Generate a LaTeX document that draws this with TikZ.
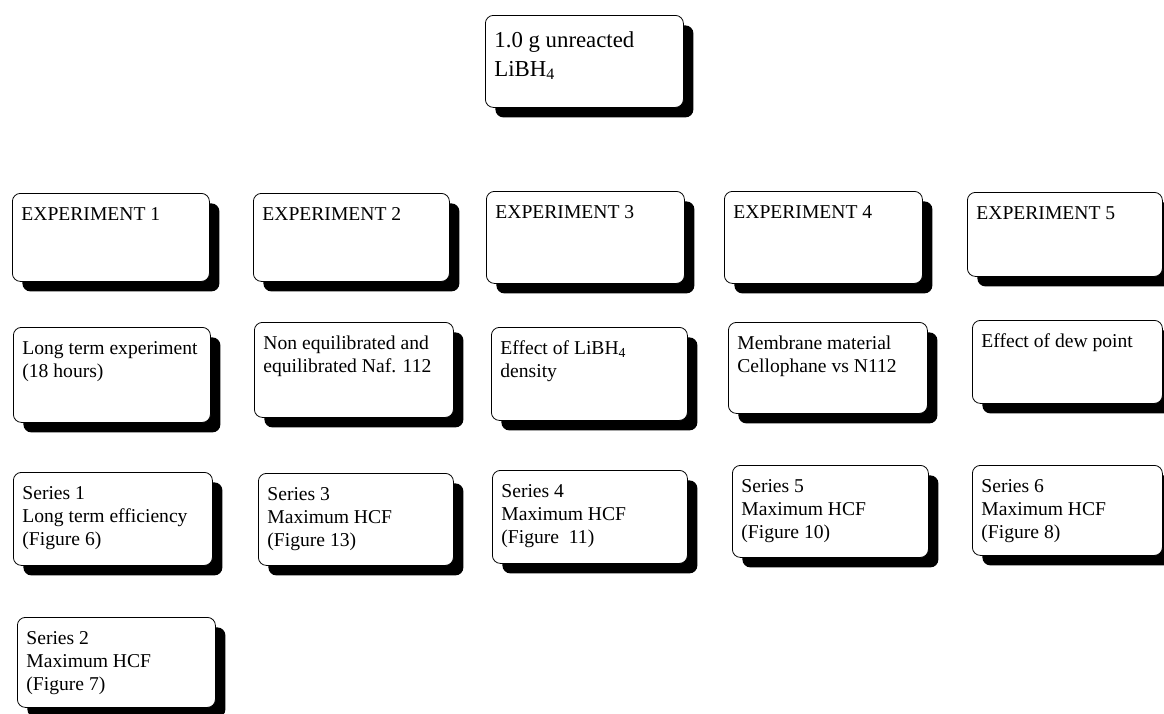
\documentclass[tikz,border=0pt]{standalone}
\usepackage{fontspec}
\setmainfont{Liberation Serif}
\usetikzlibrary{shadows}
\newcommand{\bt}[3]{\parbox[c][#2pt][t]{#1pt}{\fontsize{19.6}{23}\selectfont\raggedright\rule{0pt}{27pt}#3}}
\newcommand{\btbig}[3]{\parbox[c][#2pt][t]{#1pt}{\fontsize{22.8}{29}\selectfont\raggedright\rule{0pt}{32pt}#3}}
\tikzset{
  card/.style={draw=black, line width=0.8pt, fill=white, rounded corners=8pt,
    anchor=north west, inner xsep=9pt, inner ysep=0pt, align=left,
    drop shadow={shadow xshift=10pt, shadow yshift=-10pt, fill=black, opacity=1}}
}
\begin{document}
\begin{tikzpicture}[x=1pt,y=-1pt]
\fill[white] (0,0) rectangle (1164,713);
\useasboundingbox (0,0) rectangle (1164,713);
% top
\node[card] (top) at (485,15) {\btbig{180}{92}{1.0 g unreacted\\LiBH\textsubscript{4}}};
% experiments
\node[card] (e1) at (12,193) {\bt{179}{88}{EXPERIMENT 1}};
\node[card] (e2) at (253,193) {\bt{178}{88}{EXPERIMENT 2}};
\node[card] (e3) at (486,191) {\bt{180}{92}{EXPERIMENT 3}};
\node[card] (e4) at (724,191) {\bt{180}{92}{EXPERIMENT 4}};
\node[card] (e5) at (967,192) {\bt{177}{84}{EXPERIMENT 5}};
% descriptions
\node[card] (d1) at (13,327) {\bt{179}{95}{Long term experiment\\(18 hours)}};
\node[card] (d2) at (254,322) {\bt{181}{95}{Non equilibrated and\\equilibrated Naf. 112}};
\node[card] (d3) at (491,327) {\bt{178}{93}{Effect of LiBH\textsubscript{4}\\density}};
\node[card] (d4) at (728,322) {\bt{181}{91}{Membrane material\\Cellophane vs N112}};
\node[card] (d5) at (972,320) {\bt{172}{83}{Effect of dew point}};
% series
\node[card] (s1) at (13,472) {\bt{181}{93}{Series 1\\Long term efficiency\\(Figure 6)}};
\node[card] (s3) at (258,473) {\bt{177}{92}{Series 3\\Maximum HCF\\(Figure 13)}};
\node[card] (s4) at (492,470) {\bt{177}{93}{Series 4\\Maximum HCF\\(Figure\ \ 11)}};
\node[card] (s5) at (732,465) {\bt{178}{92}{Series 5\\Maximum HCF\\(Figure 10)}};
\node[card] (s6) at (972,465) {\bt{172}{90}{Series 6\\Maximum HCF\\(Figure 8)}};
\node[card] (s2) at (17,617) {\bt{180}{90}{Series 2\\Maximum HCF\\(Figure 7)}};
\end{tikzpicture}
\end{document}
